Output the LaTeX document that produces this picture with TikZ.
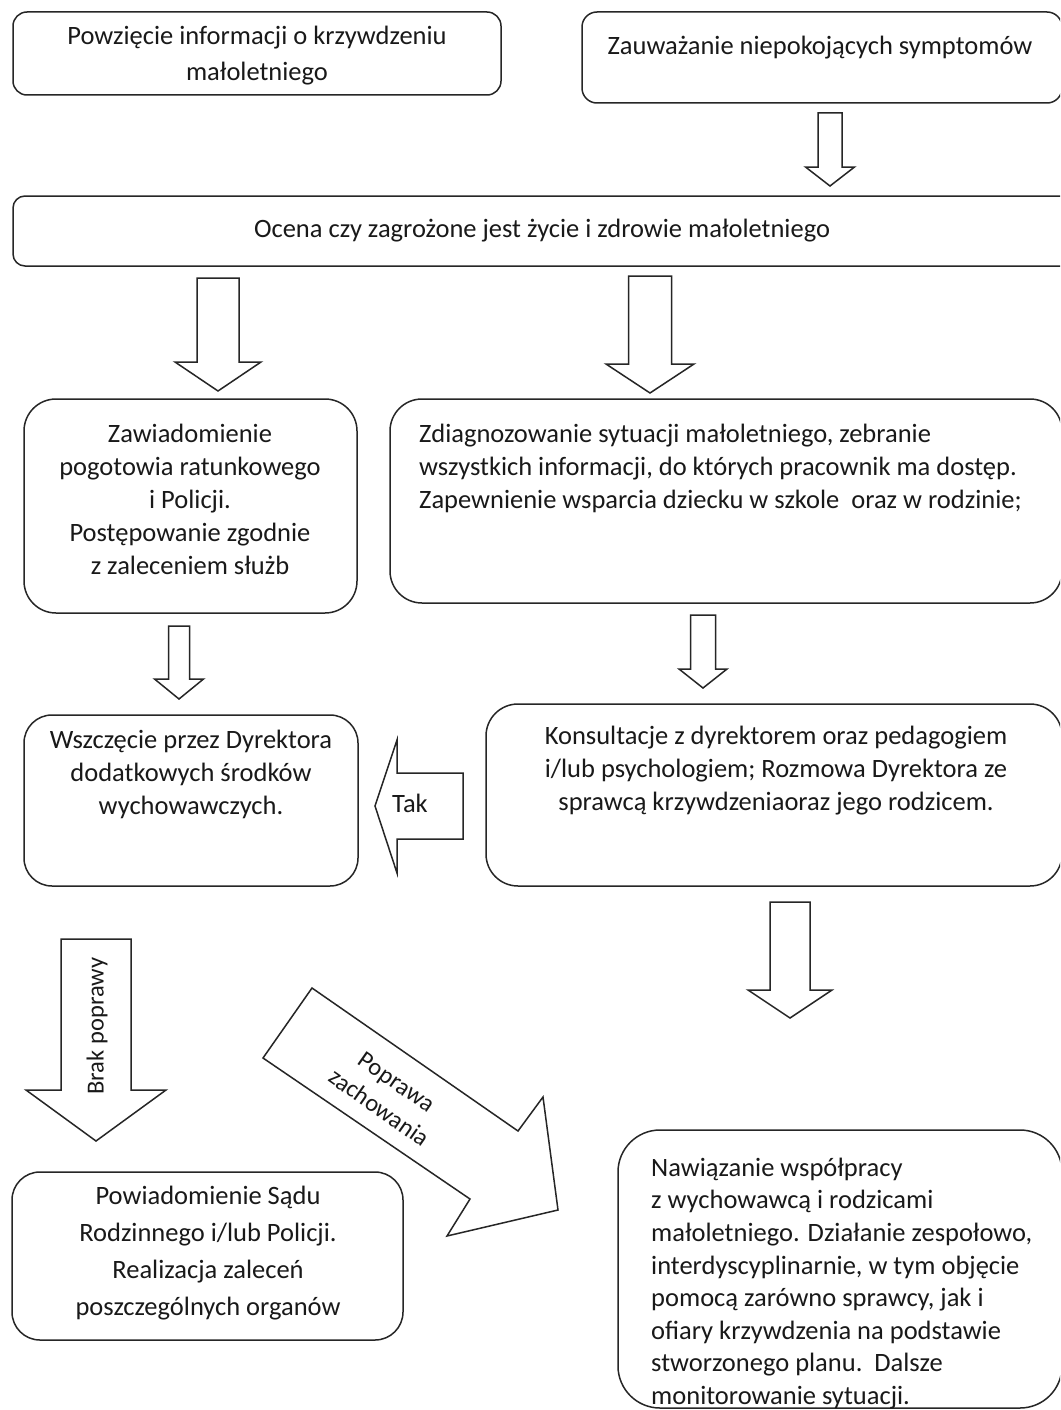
\documentclass[tikz,border=0pt]{standalone}
\usepackage{fontspec}
\setmainfont{Carlito}
\newcommand\mainsz{\fontsize{26.5}{33}\selectfont}
\newcommand\labsz{\fontsize{24.5}{31}\selectfont}
\newcommand\blockdown[6]{% cx, top, shaft half width, head base, head half width, tip
  \draw[blk] (#1-#3,#2) -- (#1+#3,#2) -- (#1+#3,#4) -- (#1+#5,#4) -- (#1,#6) -- (#1-#5,#4) -- (#1-#3,#4) -- cycle;}
\tikzset{
  box/.style={draw=black!85, line width=1.5pt, inner sep=0pt, rectangle},
  blk/.style={draw=black!85, line width=1.5pt, line join=miter, fill=white},
  txt/.style={inner sep=0pt, font=\mainsz, align=center, text=black!90,
    execute at begin node=\strut, execute at end node=\strut},
  lab/.style={inner sep=0pt, font=\labsz, align=center, text=black!90},
}
\begin{document}
\begin{tikzpicture}[x=1pt,y=-1pt]
\useasboundingbox (0,0) rectangle (1060,1410);
\fill[white] (0,0) rectangle (1060,1410);
\clip (0,0) rectangle (1060,1410);

% boxes
\node[box, rounded corners=14pt, minimum width=488pt, minimum height=83pt] (b1) at (257,53.5) {};
\node[box, rounded corners=15pt, minimum width=480pt, minimum height=91pt] (b2) at (822,57.5) {};
\node[box, rounded corners=12pt, minimum width=1062pt, minimum height=70pt] (b3) at (544,231) {};
\node[box, rounded corners=32pt, minimum width=333pt, minimum height=214pt] (b4) at (190.5,506) {};
\node[box, rounded corners=32pt, minimum width=672pt, minimum height=204pt] (b5) at (726,501) {};
\node[box, rounded corners=28pt, minimum width=334pt, minimum height=171pt] (b6) at (191,800.5) {};
\node[box, rounded corners=32pt, minimum width=576pt, minimum height=182pt] (b7) at (774,795) {};
\node[box, rounded corners=28pt, minimum width=391pt, minimum height=168pt] (b8) at (207.5,1256) {};
\node[box, rounded corners=42pt, minimum width=444pt, minimum height=278pt] (b9) at (840,1269) {};

% texts
\node[txt, font={\fontsize{26.5}{36}\selectfont}] (t1) at (257,59) {Powzięcie informacji o krzywdzeniu\\małoletniego};
\node[txt] (t2) at (820,48) {Zauważanie niepokojących symptomów};
\node[txt] (t3) at (542,231) {Ocena czy zagrożone jest życie i zdrowie małoletniego};
\node[txt] (t4) at (190,504) {Zawiadomienie\\pogotowia ratunkowego\\i Policji.\\Postępowanie zgodnie\\z zaleceniem służb};
\node[txt, align=left, anchor=west] (t5) at (419,471) {Zdiagnozowanie sytuacji małoletniego, zebranie\\wszystkich informacji, do których pracownik ma dostęp.\\Zapewnienie wsparcia dziecku w szkole\ \ oraz w rodzinie;};
\node[txt] (t6) at (191,777) {Wszczęcie przez Dyrektora\\dodatkowych środków\\wychowawczych.};
\node[txt] (t7) at (776,773) {Konsultacje z dyrektorem oraz pedagogiem\\i/lub psychologiem; Rozmowa Dyrektora ze\\sprawcą krzywdzeniaoraz jego rodzicem.};
\node[txt, font={\fontsize{26.5}{37}\selectfont}] (t8) at (208,1256.5) {Powiadomienie Sądu\\Rodzinnego i/lub Policji.\\Realizacja zaleceń\\poszczególnych organów};
\node[txt, align=left, anchor=west, font={\fontsize{26.5}{32.6}\selectfont}] (t9) at (651,1286) {Nawiązanie współpracy\\z wychowawcą i rodzicami\\małoletniego. Działanie zespołowo,\\interdyscyplinarnie, w tym objęcie\\pomocą zarówno sprawcy, jak i\\ofiary krzywdzenia na podstawie\\stworzonego planu.\ \ Dalsze\\monitorowanie sytuacji.};

% block arrows (down)
\blockdown{830}{113}{12}{167}{24.5}{186}
\blockdown{218}{278}{21}{362}{43}{391}
\blockdown{650}{276}{21.5}{364}{44}{393}
\blockdown{179}{626}{10.5}{679}{24.5}{699}
\blockdown{703}{615}{12.5}{669}{24}{688}
\blockdown{790}{902}{20}{990}{42}{1018}
\blockdown{96}{939}{35}{1090}{70}{1141}

% Tak arrow (left)
\draw[blk] (463,773) -- (463,839) -- (397,839) -- (397,873) -- (375,806) -- (397,740) -- (397,773) -- cycle;
\node[lab, font={\fontsize{26.5}{33}\selectfont}] (tak) at (410,803) {Tak};

% diagonal arrow
\draw[blk] (312,988) -- (518,1131) -- (543,1097) -- (558,1210) -- (447,1236) -- (470,1199) -- (263,1058) -- cycle;
\node[lab, rotate=-35] (popr) at (388,1095) {Poprawa\\zachowania};

% Brak poprawy label
\node[lab, rotate=90] (brak) at (97,1026) {Brak poprawy};
\end{tikzpicture}
\end{document}
